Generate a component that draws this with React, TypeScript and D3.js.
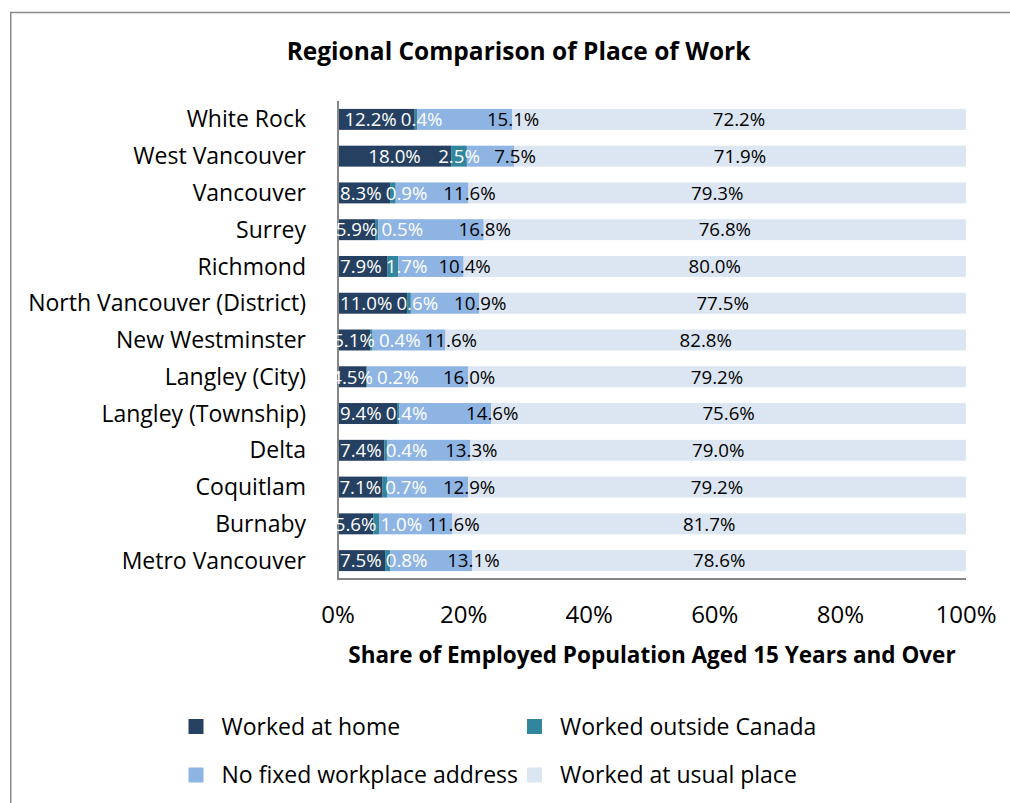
import React from "react";
import * as d3 from "d3";

const categories = [
  "White Rock",
  "West Vancouver",
  "Vancouver",
  "Surrey",
  "Richmond",
  "North Vancouver (District)",
  "New Westminster",
  "Langley (City)",
  "Langley (Township)",
  "Delta",
  "Coquitlam",
  "Burnaby",
  "Metro Vancouver",
];
const workedAtHome = [12.2, 18.0, 8.3, 5.9, 7.9, 11.0, 5.1, 4.5, 9.4, 7.4, 7.1, 5.6, 7.5];
const workedOutsideCanada = [0.4, 2.5, 0.9, 0.5, 1.7, 0.6, 0.4, 0.2, 0.4, 0.4, 0.7, 1.0, 0.8];
const noFixedWorkplace = [15.1, 7.5, 11.6, 16.8, 10.4, 10.9, 11.6, 16.0, 14.6, 13.3, 12.9, 11.6, 13.1];
const workedAtUsualPlace = [72.2, 71.9, 79.3, 76.8, 80.0, 77.5, 82.8, 79.2, 75.6, 79.0, 79.2, 81.7, 78.6];
const seriesNames = [
  "Worked at home",
  "Worked outside Canada",
  "No fixed workplace address",
  "Worked at usual place",
];
const xTicks = [0, 0.2, 0.4, 0.6, 0.8, 1];

const COLORS = ["#254061", "#31859C", "#8EB4E3", "#DCE6F2"];
const LABEL_COLORS = ["#ffffff", "#ffffff", "#000000", "#000000"];
const FONT = "'Open Sans', Lato, sans-serif";

const W = 1010;
const H = 803;
const M = { left: 338, right: 966, top: 101, bottom: 579 };

const LABEL_SIZE = 18.7;

let ctx: CanvasRenderingContext2D | null = null;
function textWidth(s: string, size: number, weight = "normal") {
  if (!ctx) ctx = document.createElement("canvas").getContext("2d");
  if (!ctx) return s.length * size * 0.55;
  ctx.font = `${weight} ${size}px 'Open Sans'`;
  return ctx.measureText(s).width;
}

export default function App() {
  const seriesArrays = [workedAtHome, workedOutsideCanada, noFixedWorkplace, workedAtUsualPlace];
  const keys = ["home", "outside", "nofixed", "usual"];
  const rows = categories.map((c, i) => ({
    category: c,
    home: workedAtHome[i],
    outside: workedOutsideCanada[i],
    nofixed: noFixedWorkplace[i],
    usual: workedAtUsualPlace[i],
  }));
  const stacked = d3.stack<any>().keys(keys).offset(d3.stackOffsetExpand)(rows);

  const x = d3.scaleLinear().domain([0, 1]).range([M.left, M.right]);
  const y = d3
    .scaleBand<string>()
    .domain(categories)
    .range([M.top, M.bottom])
    .paddingInner(0.43)
    .paddingOuter(0.215);
  const bh = y.bandwidth();

  // label layout per row: centred labels, pushed apart where they collide
  const labelsPerRow = categories.map((c, i) => {
    const texts = seriesArrays.map((arr) => `${arr[i].toFixed(1)}%`);
    const w = texts.map((t) => textWidth(t, LABEL_SIZE));
    const segs = stacked.map((s) => [x(s[i][0]), x(s[i][1])]);
    const base = segs.map((sg, k) => (k === 2 ? sg[1] + 1 : (sg[0] + sg[1]) / 2));
    const cpos = base.slice();
    const gap = 4;
    const minC0 = Math.min(base[0], M.left + 2 + w[0] / 2);
    for (let it = 0; it < 200; it++) {
      for (let k = 0; k < 3; k++) {
        const need = (w[k] + w[k + 1]) / 2 + gap;
        const d = cpos[k + 1] - cpos[k];
        if (d < need) {
          const ov = need - d;
          cpos[k] -= ov / 2;
          cpos[k + 1] += ov / 2;
        }
      }
      if (cpos[0] < minC0) cpos[0] = minC0;
    }
    for (let k = 0; k < 3; k++) {
      const need = (w[k] + w[k + 1]) / 2 + gap;
      if (cpos[k + 1] < cpos[k] + need) cpos[k + 1] = cpos[k] + need;
    }
    return texts.map((t, k) => ({ text: t, cx: cpos[k], color: LABEL_COLORS[k] }));
  });

  const legendItems = seriesNames.map((name, k) => ({
    name,
    color: COLORS[k],
    col: k % 2,
    row: Math.floor(k / 2),
  }));
  const legendColX = [188.5, 527];
  const legendRowY = [726.5, 775];

  return (
    <div style={{ position: "absolute", left: 0, top: 0 }}>
      <svg width={W} height={H} style={{ display: "block", fontFamily: FONT }}>
        <rect x={0} y={0} width={W} height={H} fill="#ffffff" />
        <rect x={10.75} y={12.5} width={W + 20} height={H + 20} fill="none" stroke="#8a8a8a" strokeWidth={1.5} />

        <text x={518.5} y={60} textAnchor="middle" fontSize={24.5} fontWeight="bold" fill="#000">
          Regional Comparison of Place of Work
        </text>

        {/* bars */}
        {stacked.map((s, k) => (
          <g key={k} fill={COLORS[k]}>
            {s.map((d, i) => (
              <rect
                key={i}
                x={x(d[0])}
                y={y(categories[i])}
                width={Math.max(0, x(d[1]) - x(d[0]))}
                height={bh}
              />
            ))}
          </g>
        ))}

        {/* axes */}
        <line x1={M.left} x2={M.left} y1={M.top} y2={M.bottom} stroke="#868686" strokeWidth={2} />
        <line x1={M.left - 1} x2={M.right} y1={M.bottom} y2={M.bottom} stroke="#868686" strokeWidth={2} />

        {/* category labels */}
        {categories.map((c) => (
          <text
            key={c}
            x={306}
            y={(y(c) as number) + bh / 2}
            dy="0.35em"
            textAnchor="end"
            fontSize={23}
            fill="#000"
          >
            {c}
          </text>
        ))}

        {/* data labels */}
        {labelsPerRow.map((labels, i) => (
          <g key={i}>
            {labels.map((l, k) => (
              <text
                key={k}
                x={l.cx}
                y={(y(categories[i]) as number) + bh / 2}
                dy="0.36em"
                textAnchor="middle"
                fontSize={LABEL_SIZE}
                fill={l.color}
              >
                {l.text}
              </text>
            ))}
          </g>
        ))}

        {/* x tick labels */}
        {xTicks.map((t) => (
          <text key={t} x={x(t)} y={622.5} textAnchor="middle" fontSize={24} fill="#000">
            {d3.format(".0%")(t)}
          </text>
        ))}

        <text x={(M.left + M.right) / 2} y={663} textAnchor="middle" fontSize={22.5} fontWeight="bold" fill="#000">
          Share of Employed Population Aged 15 Years and Over
        </text>

        {/* legend */}
        {legendItems.map((it) => (
          <g key={it.name}>
            <rect
              x={legendColX[it.col]}
              y={legendRowY[it.row] - 7.5}
              width={15}
              height={15}
              fill={it.color}
            />
            <text
              x={legendColX[it.col] + 33}
              y={legendRowY[it.row]}
              dy="0.35em"
              fontSize={23}
              fill="#000"
            >
              {it.name}
            </text>
          </g>
        ))}
      </svg>
    </div>
  );
}
